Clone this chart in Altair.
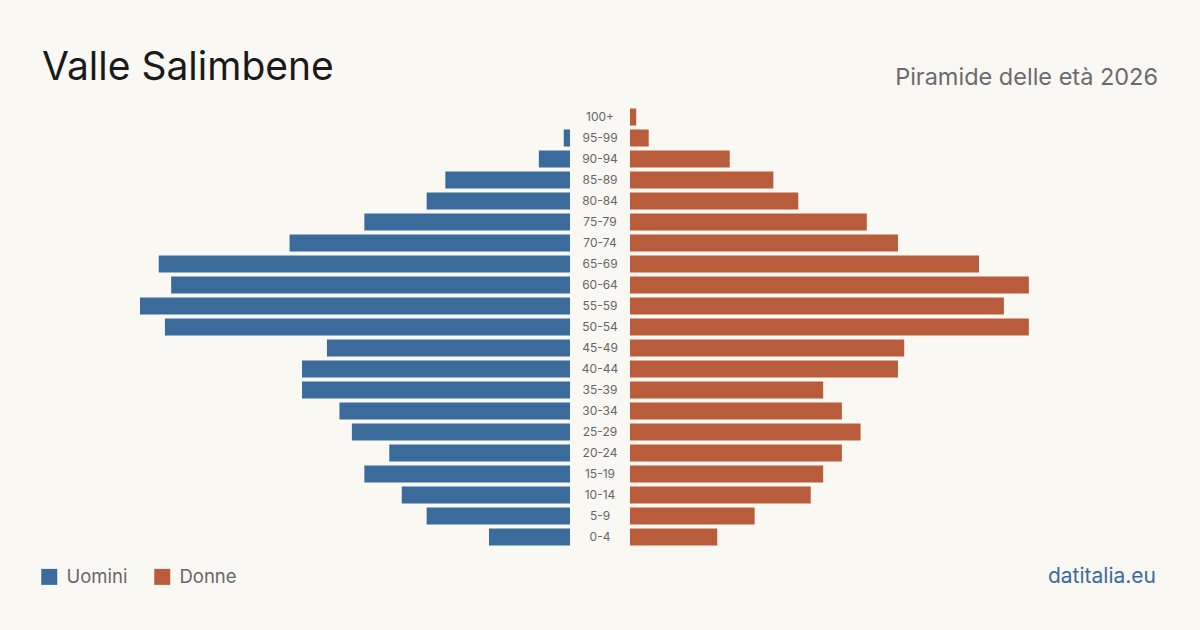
import altair as alt
import pandas as pd

ages = ["100+", "95-99", "90-94", "85-89", "80-84", "75-79", "70-74", "65-69", "60-64",
        "55-59", "50-54", "45-49", "40-44", "35-39", "30-34", "25-29", "20-24", "15-19",
        "10-14", "5-9", "0-4"]
men = [0, 1, 5, 20, 23, 33, 45, 66, 64, 69, 65, 39, 43, 43, 37, 35, 29, 33, 27, 23, 13]
women = [1, 3, 16, 23, 27, 38, 43, 56, 64, 60, 64, 44, 43, 31, 34, 37, 34, 31, 29, 20, 14]

sexes = ["Uomini", "Donne"]
colors = ["#3b6b9b", "#b95c3c"]
title_txt = "Valle Salimbene"
subtitle_txt = "Piramide delle età 2026"
source_txt = "datitalia.eu"

df = pd.DataFrame({
    "age": ages * 2,
    "sex": ["Uomini"] * len(ages) + ["Donne"] * len(ages),
    "value": men + women,
})

FONT = "Inter"
W = 920
H = 441
XMAX = 69
GAP = 30 * XMAX / 430  # half of the central label gap, in data units
LIM = XMAX + GAP

xscale = alt.Scale(domain=[-LIM, LIM], nice=False, zero=False)
yenc = alt.Y("age:N", sort=ages, axis=None,
             scale=alt.Scale(paddingInner=0.19, paddingOuter=0.095))
legend = alt.Legend(orient="none", legendX=-100, legendY=461, title=None,
                    direction="horizontal", symbolType="square", symbolSize=256,
                    symbolStrokeWidth=0, symbolOpacity=1, labelFont=FONT,
                    labelFontSize=18.5, labelColor="#666666", labelOffset=8,
                    columnPadding=25)

base = alt.Chart(df)

bars = base.transform_calculate(
    x0=f"datum.sex == 'Uomini' ? -{GAP} - datum.value : {GAP}",
    x1=f"datum.sex == 'Uomini' ? -{GAP} : {GAP} + datum.value",
).mark_bar().encode(
    x=alt.X("x0:Q", scale=xscale, axis=None),
    x2="x1:Q",
    y=yenc,
    color=alt.Color("sex:N", scale=alt.Scale(domain=sexes, range=colors), legend=legend),
)

labels = base.transform_filter(alt.datum.sex == "Uomini").transform_calculate(
    c="0"
).mark_text(
    font=FONT, fontSize=12, color="#666666", align="center", baseline="middle"
).encode(y=yenc, text="age:N", x=alt.X("c:Q", scale=xscale, axis=None))

title_layer = alt.Chart(pd.DataFrame({"t": [title_txt]})).mark_text(
    font=FONT, fontSize=39, color="#1a1a1a", align="left", baseline="alphabetic"
).encode(text="t:N", x=alt.value(42 - 140), y=alt.value(80 - 106.5))
sub_layer = alt.Chart(pd.DataFrame({"t": [subtitle_txt]})).mark_text(
    font=FONT, fontSize=23.5, color="#6b6b6b", align="right", baseline="alphabetic"
).encode(text="t:N", x=alt.value(1158 - 140), y=alt.value(85 - 106.5))
src_layer = alt.Chart(pd.DataFrame({"t": [source_txt]})).mark_text(
    font=FONT, fontSize=21, color="#3b6b9b", align="right", baseline="alphabetic"
).encode(text="t:N", x=alt.value(1156 - 140), y=alt.value(583 - 106.5))

chart = alt.layer(bars, labels, title_layer, sub_layer, src_layer).properties(
    width=W, height=H,
    autosize=alt.AutoSizeParams(type="none"),
    padding={"left": 140, "top": 106.5, "right": 140, "bottom": 82.5},
    background="#faf8f3",
).configure_view(strokeWidth=0)

chart.save("out.html", embed_options={"renderer": "svg", "actions": False})
